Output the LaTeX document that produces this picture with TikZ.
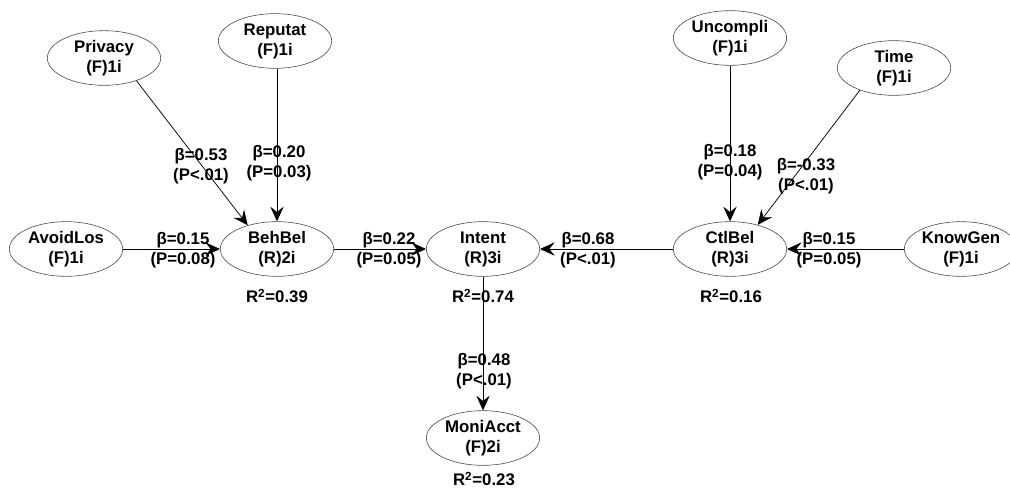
\documentclass[tikz,border=0pt]{standalone}
\usepackage{fontspec}
\setmainfont{Liberation Sans}
\usetikzlibrary{shapes.geometric,arrows.meta}
\begin{document}
\begin{tikzpicture}[x=0.75pt,y=-0.75pt,
  construct/.style={ellipse,draw=black!70,line width=0.45pt,minimum width=85pt,minimum height=41pt,
    inner sep=0pt,align=center,font=\bfseries\fontsize{12.6}{15}\selectfont},
  path/.style={draw,line width=0.55pt,-{Stealth[length=11pt,width=10pt,inset=4pt]}},
  coef/.style={align=center,font=\bfseries\fontsize{12.6}{14.5}\selectfont,inner sep=0pt},
  rsq/.style={font=\bfseries\fontsize{12.6}{14.5}\selectfont,inner sep=0pt}]
\useasboundingbox (0,0) rectangle (1010,489);

% constructs
\node[construct] (privacy)  at (104,58)  {Privacy\\(F)1i};
\node[construct] (reputat)  at (275,41)  {Reputat\\(F)1i};
\node[construct] (avoid)    at (66,249)  {AvoidLos\\(F)1i};
\node[construct] (behbel)   at (277,249) {BehBel\\(R)2i};
\node[construct] (intent)   at (483,249) {Intent\\(R)3i};
\node[construct] (ctlbel)   at (730,249) {CtlBel\\(R)3i};
\node[construct] (knowgen)  at (961,249) {KnowGen\\(F)1i};
\node[construct] (uncompli) at (730,38)  {Uncompli\\(F)1i};
\node[construct] (time)     at (894,68)  {Time\\(F)1i};
\node[construct] (moniacct) at (483,438) {MoniAcct\\(F)2i};

% structural paths
\draw[path] (privacy.-35) -- (behbel.141);
\draw[path] (reputat.south -| behbel.north) -- (behbel.north);
\draw[path] (avoid) -- (behbel);
\draw[path] (behbel) -- (intent);
\draw[path] (ctlbel) -- (intent);
\draw[path] (knowgen) -- (ctlbel);
\draw[path] (uncompli) -- (ctlbel);
\draw[path] (time.213) -- (ctlbel.41);
\draw[path] (intent) -- (moniacct);

% path coefficients
\node[coef] (c1) at (201,166) {β=0.53\\(P<.01)};
\node[coef] (c2) at (279,163) {β=0.20\\(P=0.03)};
\node[coef] (c3) at (183,250) {β=0.15\\(P=0.08)};
\node[coef] (c4) at (389,250) {β=0.22\\(P=0.05)};
\node[coef] (c5) at (588,250) {β=0.68\\(P<.01)};
\node[coef] (c6) at (829,250) {β=0.15\\(P=0.05)};
\node[coef] (c7) at (730,162) {β=0.18\\(P=0.04)};
\node[coef] (c8) at (806,176) {β=-0.33\\(P<.01)};
\node[coef] (c9) at (484,371) {β=0.48\\(P<.01)};

% explained variance
\node[rsq] (r1) at (277,296) {R\textsuperscript{2}=0.39};
\node[rsq] (r2) at (483,296) {R\textsuperscript{2}=0.74};
\node[rsq] (r3) at (731,296) {R\textsuperscript{2}=0.16};
\node[rsq] (r4) at (484,479) {R\textsuperscript{2}=0.23};
\end{tikzpicture}
\end{document}
